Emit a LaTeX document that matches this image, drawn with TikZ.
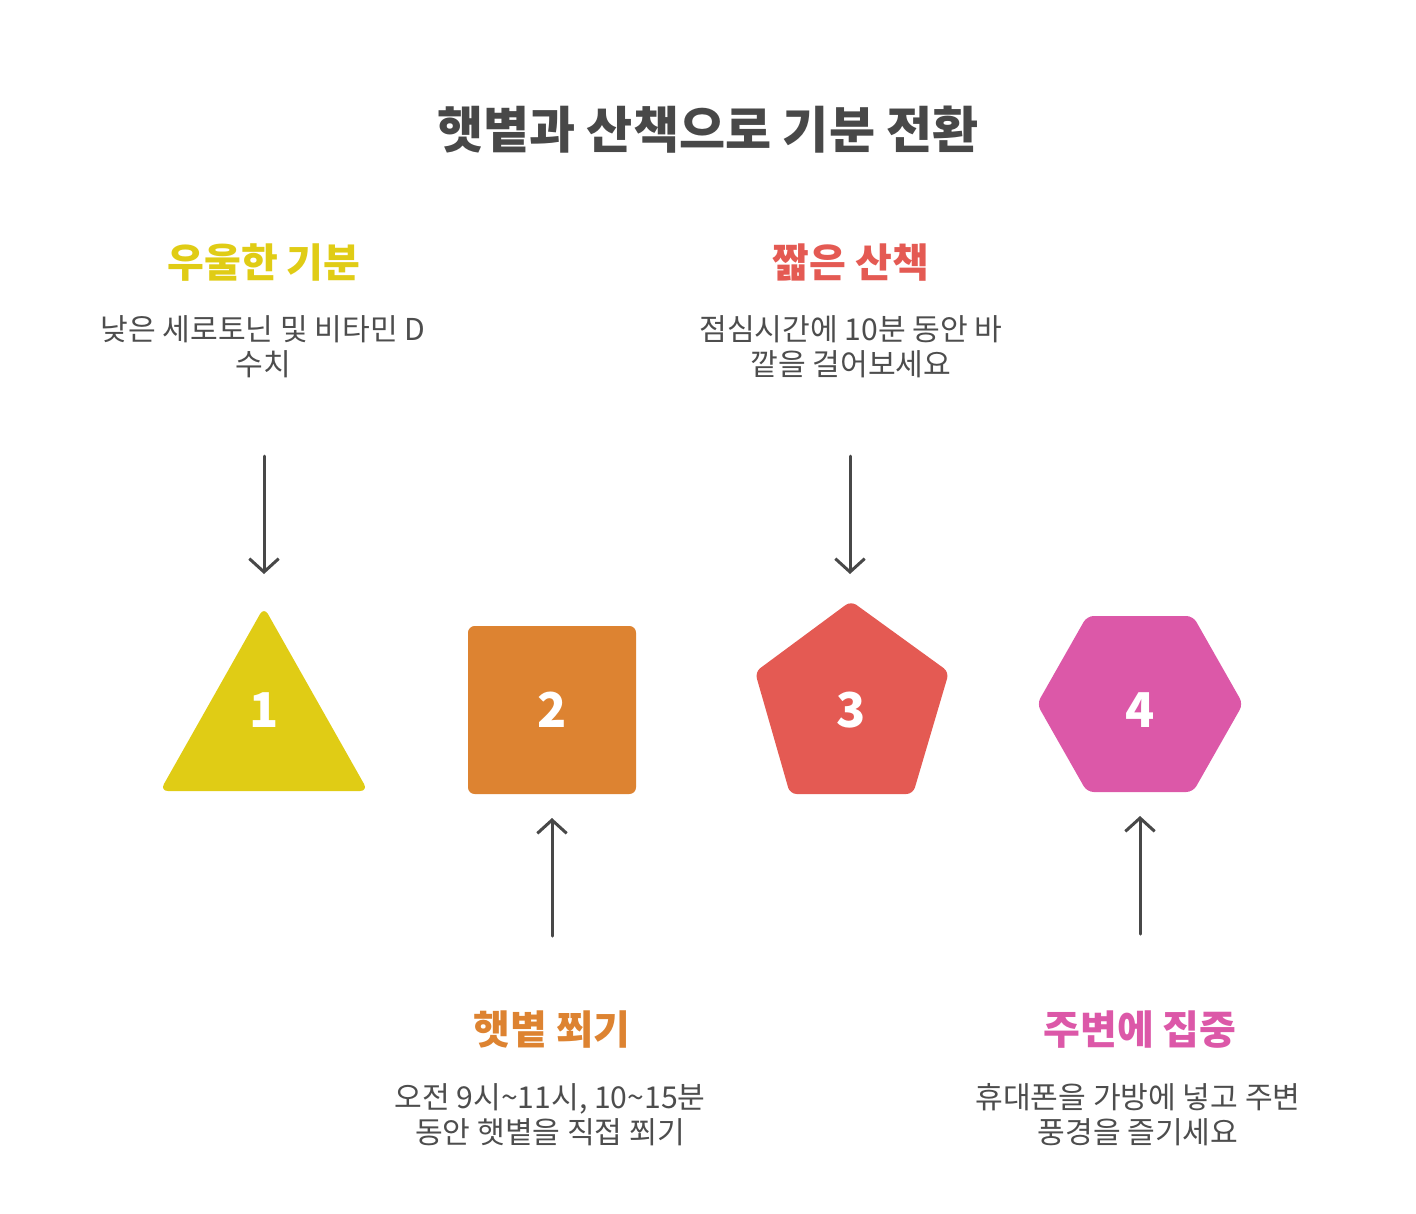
\documentclass[tikz,border=0pt]{standalone}
\usepackage{fontspec}
\setmainfont{Noto Sans CJK KR}
\usetikzlibrary{arrows.meta}
\definecolor{moodyellow}{HTML}{E0CC15}
\definecolor{sunorange}{HTML}{DD8331}
\definecolor{walkred}{HTML}{E45A53}
\definecolor{focuspink}{HTML}{DC58A8}
\definecolor{inkgray}{HTML}{484848}
\definecolor{textgray}{HTML}{4D4D4D}
\tikzset{
  title/.style={font=\fontsize{37.6}{44}\selectfont\bfseries, text=inkgray, inner sep=0pt},
  heading/.style={font=\fontsize{30}{36}\selectfont\bfseries, inner sep=0pt},
  body/.style={font=\fontsize{22.6}{26.25}\selectfont, text=textgray, align=center, inner sep=0pt},
  number/.style={font=\fontsize{36}{40}\selectfont\bfseries, text=white, inner sep=0pt},
  link/.style={-{Straight Barb[length=10pt,width=22pt]}, line width=2.25pt,
    draw=inkgray, line cap=round, line join=round},
}

\begin{document}
\begin{tikzpicture}[x=0.75pt, y=-0.75pt]
  \useasboundingbox (0,0) rectangle (1416,1213);

  % Title
  \node[title] (title) at (708,130) {햇볕과 산책으로 기분 전환};

  % Shapes
  \fill[moodyellow, rounded corners=6] (264,791) -- (160,791) -- (264,607) -- (368,791) -- cycle;
  \fill[sunorange, rounded corners=5] (468,626) rectangle (636,794);
  \fill[walkred, rounded corners=5] (851,794) -- (790,794) -- (755,672) -- (851,601) -- (949,672) -- (913,794) -- cycle;
  \fill[focuspink, rounded corners=5] (1140,792) -- (1087,792) -- (1037,704) -- (1087,616) -- (1193,616) -- (1243,704) -- (1193,792) -- cycle;

  % Numbers
  \node[number] (n1) at (264,710) {1};
  \node[number] (n2) at (552,710) {2};
  \node[number] (n3) at (851,710) {3};
  \node[number] (n4) at (1140,710) {4};

  % Steps above
  \node[heading, text=moodyellow] (h1) at (264,263) {우울한 기분};
  \node[body] (t1) at (263,347) {낮은 세로토닌 및 비타민 D\\수치};
  \node[heading, text=walkred] (h3) at (851,263) {짧은 산책};
  \node[body] (t3) at (851,347) {점심시간에 10분 동안 바\\깥을 걸어보세요};

  % Steps below
  \node[heading, text=sunorange] (h2) at (552,1030) {햇볕 쬐기};
  \node[body] (t2) at (550,1115) {오전 9시\textasciitilde 11시, 10\textasciitilde 15분\\동안 햇볕을 직접 쬐기};
  \node[heading, text=focuspink] (h4) at (1140,1030) {주변에 집중};
  \node[body] (t4) at (1138,1115) {휴대폰을 가방에 넣고 주변\\풍경을 즐기세요};

  % Arrows
  \coordinate (a1) at (264,456);
  \coordinate (b1) at (264,574);
  \coordinate (a3) at (850,456);
  \coordinate (b3) at (850,574);
  \coordinate (a2) at (552,936);
  \coordinate (b2) at (552,818);
  \coordinate (a4) at (1140,934);
  \coordinate (b4) at (1140,816);
  \draw[link] (a1) -- (b1);
  \draw[link] (a3) -- (b3);
  \draw[link] (a2) -- (b2);
  \draw[link] (a4) -- (b4);
\end{tikzpicture}
\end{document}
